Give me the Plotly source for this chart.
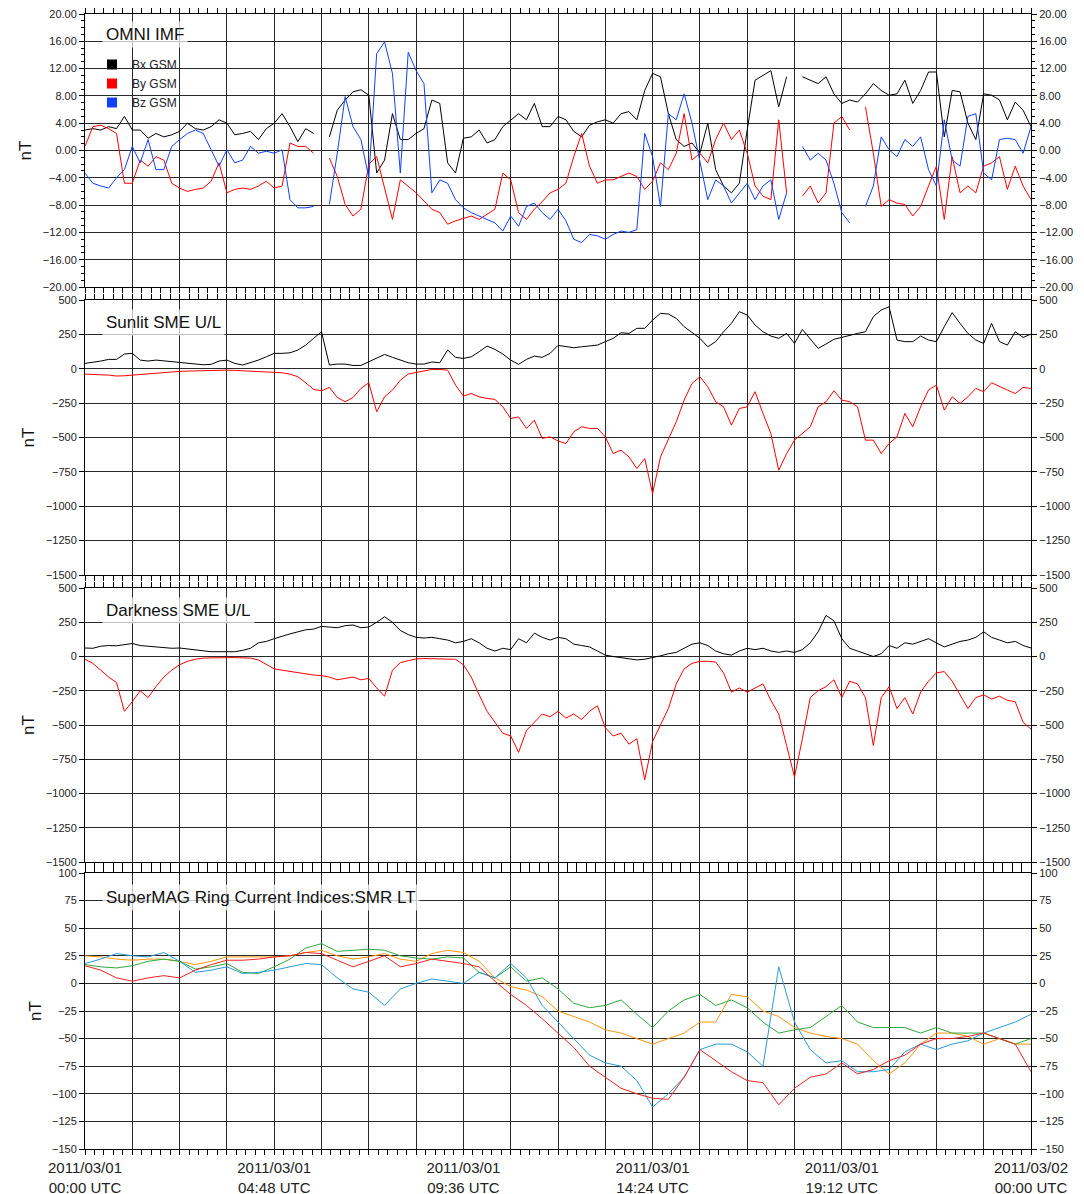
import plotly.graph_objects as go
import pandas as pd

# ---------------- data ----------------
t_fine = pd.date_range("2011-03-01 00:00", periods=121, freq="12min")
t_coarse = pd.date_range("2011-03-01 00:00", periods=61, freq="24min")

imf_bx = [3.0, 3.2, 3.0, 3.5, 3.2, 5.0, 3.0, 3.0, 1.8, 2.5, 2.0, 2.3, 2.8, 4.0, 3.2, 3.0, 3.5, 4.5, 4.0, 2.3,
          2.5, 2.8, 1.6, 3.2, 4.0, 5.4, 3.5, 1.3, 3.2, 2.5, None, 2.0, 5.9, 7.4, 8.6, 8.9, 8.1, -3.3, -1.4, 5.4,
          1.6, 1.6, 2.5, 3.2, 7.4, 6.9, -1.8, -3.3, 1.8, 2.0, 3.0, 1.1, 1.6, 3.5, 4.5, 5.4, 4.5, 6.9, 3.5, 3.5,
          5.0, 4.5, 2.8, 2.0, 3.7, 4.2, 4.5, 4.0, 5.4, 5.7, 4.5, 8.8, 11.3, 10.8, 5.4, 1.6, 0.6, 1.1, -0.4, 4.0,
          -2.8, -5.2, -6.2, -4.8, 3.0, 10.3, 11.0, 11.7, 6.4, 10.8, None, 10.8, 10.3, 9.8, 10.8, 8.3, 6.9, 7.4, 7.1, 8.3,
          9.8, 8.8, 8.1, 8.3, 10.3, 6.9, 8.8, 11.5, 11.5, 2.0, 8.8, 8.6, 4.0, 1.6, 8.3, 8.1, 7.4, 4.5, 7.1, 5.9,
          3.5]
imf_by = [0.6, 3.5, 3.7, 3.2, 2.5, -4.8, -4.8, -1.4, -2.3, -0.9, -1.4, -4.8, -5.5, -6.0, -5.7, -5.5, -4.5, -1.8, -6.2, -5.7,
          -5.5, -5.7, -5.2, -4.5, -5.5, -5.2, 1.1, 0.6, 0.6, -0.4, None, -1.1, -3.8, -7.9, -9.6, -8.6, -2.0, -0.9, -5.7, -10.1,
          -4.3, -5.2, -6.2, -7.4, -8.6, -9.1, -10.8, -10.3, -9.9, -9.6, -10.1, -9.4, -8.6, -3.3, -4.3, -9.1, -10.1, -8.6, -7.5, -6.2,
          -5.7, -4.8, -0.9, 2.5, -2.3, -4.8, -4.3, -4.3, -3.8, -3.3, -3.8, -5.7, -4.5, -1.8, -2.8, -0.4, 5.4, -1.4, -0.4, -1.8,
          1.6, 4.0, 1.6, 3.0, -0.4, -5.2, -6.7, -7.2, 4.5, -6.2, None, -6.7, -5.2, -7.7, -6.2, 4.0, 5.0, 3.0, None, 6.4,
          -0.4, -8.2, -7.2, -7.7, -7.9, -9.6, -8.2, -5.2, -2.3, -10.1, -0.9, -6.2, -5.2, -6.2, -2.3, -1.8, -0.9, -5.7, -2.3, -5.2,
          -7.2]
imf_bz = [-3.3, -4.8, -5.2, -5.5, -4.0, -2.8, 0.6, -1.8, 1.6, -2.8, -2.8, 0.6, 1.6, 2.5, 3.0, 2.5, 0.1, -2.3, 0.1, -1.8,
          -1.4, 0.6, -0.4, -0.1, -0.4, 0.1, -7.2, -8.4, -8.4, -8.2, None, -7.9, -0.4, 7.9, 3.5, 1.6, -4.0, 14.2, 15.9, 11.3,
          -3.3, 14.4, 11.7, 9.8, -6.2, -4.3, -4.8, -7.2, -8.4, -9.1, -9.6, -10.1, -10.6, -11.8, -9.6, -11.1, -8.2, -7.7, -9.1, -10.1,
          -8.6, -10.3, -13.0, -13.5, -12.3, -12.5, -13.0, -12.3, -11.8, -12.0, -11.6, 2.5, -0.9, -8.2, 5.4, 4.5, 8.3, 4.0, -1.4, -7.2,
          -4.3, -5.2, -7.7, -6.2, -4.8, -7.2, -5.2, -4.3, -10.1, -6.2, None, 0.6, -1.4, -0.4, -1.4, -4.8, -9.1, -10.6, None, -8.2,
          -5.2, 2.0, 0.1, -0.9, 1.6, 0.6, 2.0, -2.8, -5.2, 4.5, -1.4, -2.3, 5.0, 5.4, -3.3, -4.3, 1.6, 1.8, 1.6, -0.4,
          3.5]

sunlit_smu = [39, 46, 56, 68, 68, 107, 112, 63, 56, 63, 58, 51, 46, 44, 34, 29, 32, 56, 63, 39,
              27, 44, 63, 87, 112, 112, 116, 136, 172, 221, 269, 27, 34, 34, 24, 24, 51, 83, 104, 83,
              63, 44, 34, 34, 49, 44, 136, 83, 75, 87, 124, 165, 141, 107, 63, 32, 68, 92, 83, 112,
              170, 160, 153, 160, 165, 172, 197, 221, 262, 257, 294, 294, 354, 403, 398, 366, 306, 262, 221, 160,
              197, 269, 330, 415, 391, 318, 269, 238, 221, 257, 184, 286, 221, 148, 180, 214, 228, 245, 257, 269,
              379, 427, 451, 209, 197, 197, 238, 209, 197, 306, 408, 330, 257, 209, 184, 330, 197, 172, 269, 228,
              252]
sunlit_sml = [-39, -39, -44, -46, -53, -51, -46, -39, -39, -29, -29, -24, -19, -17, -15, -12, -12, -10, -10, -12,
              -15, -17, -19, -22, -27, -29, -39, -58, -102, -150, -160, -136, -209, -240, -209, -143, -102, -313, -204, -155,
              -83, -39, -27, -15, -5, -5, -10, -119, -199, -180, -204, -216, -223, -277, -362, -350, -434, -374, -507, -495,
              -525, -544, -459, -422, -434, -434, -495, -617, -592, -641, -726, -653, -908, -641, -519, -386, -228, -107, -58, -131,
              -240, -277, -410, -289, -277, -167, -325, -471, -738, -617, -519, -471, -422, -277, -240, -160, -228, -240, -277, -519,
              -519, -617, -544, -495, -325, -422, -277, -155, -119, -301, -204, -252, -204, -143, -167, -102, -126, -155, -180, -136,
              -143]

dark_smu = [62, 60, 75, 80, 78, 85, 95, 80, 75, 70, 65, 60, 62, 55, 45, 40, 35, 35, 33, 35,
            45, 60, 100, 110, 130, 150, 165, 180, 195, 200, 220, 215, 210, 225, 230, 210, 215, 250, 290, 250,
            190, 160, 140, 135, 140, 130, 120, 100, 110, 130, 100, 60, 40, 60, 50, 130, 100, 170, 140, 120,
            140, 130, 90, 80, 70, 40, 10, 0, -10, -15, -25, -20, -10, 5, 20, 30, 60, 90, 100, 80,
            40, 20, 10, 40, 60, 50, 60, 40, 30, 40, 30, 50, 100, 180, 300, 260, 130, 60, 40, 20,
            0, 20, 80, 60, 100, 90, 110, 130, 100, 70, 90, 110, 120, 140, 180, 140, 120, 100, 110, 80,
            62]
dark_sml = [-20, -50, -100, -150, -190, -400, -330, -250, -300, -220, -150, -100, -60, -35, -20, -12, -10, -8, -8, -8,
            -10, -12, -25, -60, -90, -100, -110, -115, -125, -135, -140, -150, -170, -160, -150, -170, -160, -230, -290, -100,
            -45, -30, -18, -15, -15, -15, -15, -20, -60, -150, -280, -400, -480, -560, -580, -700, -540, -480, -420, -440,
            -400, -450, -420, -460, -400, -360, -520, -580, -560, -640, -600, -900, -620, -500, -380, -200, -90, -50, -35, -35,
            -40, -120, -260, -230, -260, -230, -200, -320, -420, -650, -880, -600, -300, -250, -220, -170, -300, -180, -200, -300,
            -650, -300, -220, -380, -300, -420, -260, -180, -120, -110, -180, -280, -380, -300, -280, -310, -290, -320, -330, -480,
            -530]

smr_green = [17, 15, 14, 16, 20, 22, 20, 13, 15, 18, 10, 9, 15, 22, 32, 36, 29, 30, 31, 30,
             25, 23, 22, 24, 23, 10, 5, 15, 2, 5, -5, -18, -22, -20, -15, -28, -40, -25, -15, -10,
             -20, -15, -22, -35, -45, -42, -40, -30, -20, -35, -40, -40, -40, -45, -40, -45, -45, -45, -50, -55,
             -50]
smr_orange = [25, 24, 22, 21, 22, 22, 20, 17, 20, 24, 24, 24, 24, 25, 28, 30, 25, 22, 24, 27,
              22, 20, 27, 30, 28, 20, 5, -3, -6, -12, -25, -30, -35, -42, -45, -50, -55, -50, -45, -35,
              -35, -10, -12, -25, -30, -40, -45, -48, -50, -55, -70, -82, -72, -55, -45, -45, -48, -55, -50, -55,
              -55]
smr_blue = [18, 22, 27, 25, 24, 28, 20, 10, 12, 15, 9, 10, 12, 15, 18, 17, 5, -5, -8, -20,
            -5, 0, 4, 2, 0, 10, 5, 18, 5, -20, -35, -50, -65, -72, -75, -88, -112, -100, -85, -60,
            -55, -55, -62, -75, 15, -35, -60, -72, -70, -80, -80, -78, -62, -55, -60, -55, -52, -45, -40, -35,
            -28]
smr_red = [16, 12, 5, 2, 5, 7, 5, 12, 17, 21, 21, 22, 24, 25, 28, 27, 21, 15, 20, 25,
           15, 18, 22, 20, 18, 15, 2, -10, -20, -32, -45, -58, -75, -85, -95, -100, -104, -105, -85, -60,
           -70, -80, -88, -90, -110, -95, -85, -82, -72, -82, -78, -70, -65, -55, -50, -50, -48, -45, -50, -55,
           -80]

tick_times = pd.date_range("2011-03-01 00:00", "2011-03-02 00:00", freq="72min")
tick_labels = ["2011/03/01<br>00:00 UTC", "", "", "", "2011/03/01<br>04:48 UTC", "", "", "",
               "2011/03/01<br>09:36 UTC", "", "", "", "2011/03/01<br>14:24 UTC", "", "", "",
               "2011/03/01<br>19:12 UTC", "", "", "", "2011/03/02<br>00:00 UTC"]

panel_titles = ["OMNI IMF", "Sunlit SME U/L", "Darkness SME U/L", "SuperMAG Ring Current Indices:SMR LT"]
imf_names = ["Bx GSM", "By GSM", "Bz GSM"]

# ---------------- style ----------------
FONT = "Liberation Sans, Arial, Helvetica, sans-serif"
GRID = "#2a2a2a"
C_BX, C_BY, C_BZ = "#000000", "#ff0000", "#1040ff"
C_GREEN, C_ORANGE, C_BLUE, C_RED = "#2eaa3c", "#ff9410", "#2a9ad6", "#ee2222"

H_TOT = 1135.0
def pf(y_px):
    return (1149 - y_px) / H_TOT

domains = [[pf(287), 1.0], [pf(575), pf(300)], [pf(862), pf(588)], [0.0, pf(873)]]
yranges = [[-20, 20], [-1500, 500], [-1500, 500], [-150, 100]]
ydticks = [4, 250, 250, 25]

fig = go.Figure()

def add(x, y, color, n):
    fig.add_trace(go.Scatter(x=x, y=y, mode="lines", line=dict(color=color, width=1),
                             connectgaps=False, showlegend=False, hoverinfo="skip",
                             xaxis="x" if n == 1 else f"x{n}", yaxis="y" if n == 1 else f"y{n}"))

add(t_fine, imf_bx, C_BX, 1)
add(t_fine, imf_by, C_BY, 1)
add(t_fine, imf_bz, C_BZ, 1)
add(t_fine, sunlit_smu, C_BX, 2)
add(t_fine, sunlit_sml, C_BY, 2)
add(t_fine, dark_smu, C_BX, 3)
add(t_fine, dark_sml, C_BY, 3)
add(t_coarse, smr_orange, C_ORANGE, 4)
add(t_coarse, smr_green, C_GREEN, 4)
add(t_coarse, smr_blue, C_BLUE, 4)
add(t_coarse, smr_red, C_RED, 4)

# legend entries (square swatches) for the IMF components
for name, col in zip(imf_names, [C_BX, C_BY, C_BZ]):
    fig.add_trace(go.Scatter(x=[None], y=[None], mode="markers", name=name,
                             marker=dict(symbol="square", size=10, color=col),
                             showlegend=True, hoverinfo="skip", xaxis="x", yaxis="y"))

layout = dict(
    width=1084, height=1194, autosize=False,
    margin=dict(l=85, r=53, t=14, b=45, pad=0),
    paper_bgcolor="white", plot_bgcolor="white",
    font=dict(family=FONT, color="#111111", size=11),
    showlegend=True,
    legend=dict(x=(92 - 85) / 946.0, y=pf(50), xanchor="left", yanchor="top",
                bgcolor="rgba(0,0,0,0)", borderwidth=0, itemwidth=30,
                font=dict(size=12, family=FONT, color="#222222"), tracegroupgap=0,
                itemclick=False, itemdoubleclick=False),
)

x0, x1 = tick_times[0], tick_times[-1]
for i in range(4):
    n = i + 1
    xs = "" if n == 1 else str(n)
    xa = dict(
        domain=[0, 1], range=[x0, x1], anchor="y" + xs, type="date",
        tickmode="array", tickvals=tick_times, ticktext=tick_labels,
        showticklabels=(n == 4), tickfont=dict(size=15, family=FONT, color="#222222"),
        showgrid=True, gridcolor=GRID, gridwidth=1.4,
        showline=True, linecolor="black", linewidth=1, mirror="allticks",
        ticks="outside", ticklen=5, tickcolor="black", tickwidth=1,
        minor=dict(tickmode="linear", tick0="2011-03-01 00:00", dtick=864000,
                   ticks="outside", ticklen=3, tickcolor="black", showgrid=False),
        zeroline=False, automargin=False, fixedrange=True,
    )
    if n > 1:
        xa["matches"] = "x"
    layout["xaxis" + xs] = xa

    lo, hi = yranges[i]
    ya = dict(
        domain=domains[i], range=[lo, hi], anchor="x" + xs,
        tickmode="linear", tick0=lo, dtick=ydticks[i],
        tickformat=".2f" if n == 1 else "d",
        showgrid=True, gridcolor=GRID, gridwidth=1.4,
        showline=True, linecolor="black", linewidth=1, mirror="allticks",
        ticks="outside", ticklen=5, tickcolor="black",
        tickfont=dict(size=11, family=FONT, color="#222222"),
        zeroline=False, automargin=False, fixedrange=True,
        title=dict(text="nT", font=dict(size=17, family=FONT, color="#111111"), standoff=6),
    )
    if n == 1:
        ya["minor"] = dict(tickmode="linear", tick0=-20, dtick=1, ticks="outside", ticklen=3,
                           tickcolor="black", showgrid=False)
    layout["yaxis" + xs] = ya

    # right-hand labels
    yr = dict(
        overlaying="y" + xs, side="right", anchor="x" + xs, range=[lo, hi],
        tickmode="linear", tick0=lo, dtick=ydticks[i],
        tickformat=".2f" if n == 1 else "d",
        showgrid=False, showline=False, ticks="outside", ticklen=5, tickcolor="black",
        tickfont=dict(size=11, family=FONT, color="#222222"),
        zeroline=False, automargin=False, fixedrange=True,
    )
    layout["yaxis" + str(n + 4)] = yr

fig.update_layout(**layout)

# invisible anchors so right axes always render
for i in range(4):
    n = i + 1
    xs = "x" if n == 1 else f"x{n}"
    fig.add_trace(go.Scatter(x=[t_fine[0]], y=[yranges[i][0]], mode="markers", opacity=0,
                             showlegend=False, hoverinfo="skip", xaxis=xs, yaxis=f"y{n + 4}"))

# panel titles
title_centers = [34, 322, 610, 897]
for txt, yc in zip(panel_titles, title_centers):
    fig.add_annotation(text=txt, xref="paper", yref="paper", x=(102 - 85) / 946.0, y=pf(yc),
                       xanchor="left", yanchor="middle", showarrow=False,
                       font=dict(size=17, family=FONT, color="#111111"),
                       bgcolor="rgba(255,255,255,0.72)", borderpad=3)

fig.write_html("out.html")
